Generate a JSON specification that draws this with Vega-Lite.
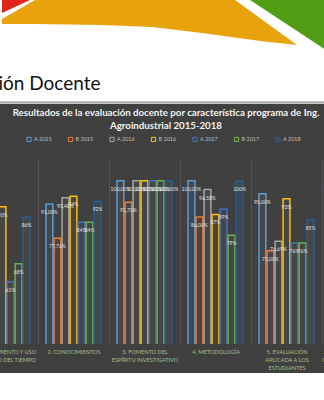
{
  "$schema": "https://vega.github.io/schema/vega-lite/v6.json",
  "padding": {"left": -35, "top": 0, "right": 0, "bottom": 0},
  "background": "#404040",
  "config": {"view": {"stroke": null}, "font": "Lato"},
  "datasets": {
    "deco": [
      {"shape": "red", "x": 0, "y": 0, "y2": 13},
      {"shape": "red", "x": 28, "y": 0, "y2": 0},
      {"shape": "orange", "x": 0, "y": 19, "y2": 24},
      {"shape": "orange", "x": 33, "y": 0, "y2": 24},
      {"shape": "orange", "x": 100, "y": 0, "y2": 25},
      {"shape": "orange", "x": 150, "y": 0, "y2": 27},
      {"shape": "orange", "x": 200, "y": 0, "y2": 33},
      {"shape": "orange", "x": 233, "y": 0, "y2": 37.5},
      {"shape": "orange", "x": 262, "y": 21, "y2": 41.5},
      {"shape": "orange", "x": 295, "y": 45, "y2": 45},
      {"shape": "green", "x": 248, "y": 0, "y2": 0},
      {"shape": "green", "x": 324, "y": 0, "y2": 50},
      {"shape": "green", "x": 391, "y": 0, "y2": 94}
    ],
    "bars": [
      {"cat": "1. CUMPLIMIENTO Y USO ADECUADO DEL TIEMPO", "serie": "B 2016", "v": 90, "lab": "90%"},
      {"cat": "1. CUMPLIMIENTO Y USO ADECUADO DEL TIEMPO", "serie": "A 2017", "v": 61, "lab": "61%"},
      {"cat": "1. CUMPLIMIENTO Y USO ADECUADO DEL TIEMPO", "serie": "B 2017", "v": 68, "lab": "68%"},
      {"cat": "1. CUMPLIMIENTO Y USO ADECUADO DEL TIEMPO", "serie": "A 2018", "v": 86, "lab": "86%"},
      {"cat": "2. CONOCIMIENTOS", "serie": "A 2015", "v": 91, "lab": "91,00%"},
      {"cat": "2. CONOCIMIENTOS", "serie": "B 2015", "v": 77.76, "lab": "77,76%"},
      {"cat": "2. CONOCIMIENTOS", "serie": "A 2016", "v": 93.48, "lab": "93,48%"},
      {"cat": "2. CONOCIMIENTOS", "serie": "B 2016", "v": 94, "lab": "94%"},
      {"cat": "2. CONOCIMIENTOS", "serie": "A 2017", "v": 84, "lab": "84%"},
      {"cat": "2. CONOCIMIENTOS", "serie": "B 2017", "v": 84, "lab": "84%"},
      {"cat": "2. CONOCIMIENTOS", "serie": "A 2018", "v": 92, "lab": "92%"},
      {"cat": "3. FOMENTO DEL ESPÍRITU INVESTIGATIVO", "serie": "A 2015", "v": 100, "lab": "100,00%"},
      {"cat": "3. FOMENTO DEL ESPÍRITU INVESTIGATIVO", "serie": "B 2015", "v": 91.7, "lab": "91,70%"},
      {"cat": "3. FOMENTO DEL ESPÍRITU INVESTIGATIVO", "serie": "A 2016", "v": 100, "lab": "100,00%"},
      {"cat": "3. FOMENTO DEL ESPÍRITU INVESTIGATIVO", "serie": "B 2016", "v": 100, "lab": "100,00%"},
      {"cat": "3. FOMENTO DEL ESPÍRITU INVESTIGATIVO", "serie": "A 2017", "v": 100, "lab": "100,00%"},
      {"cat": "3. FOMENTO DEL ESPÍRITU INVESTIGATIVO", "serie": "B 2017", "v": 100, "lab": "100,00%"},
      {"cat": "3. FOMENTO DEL ESPÍRITU INVESTIGATIVO", "serie": "A 2018", "v": 100, "lab": "100,00%"},
      {"cat": "4. METODOLOGÍA", "serie": "A 2015", "v": 100, "lab": "100,00%"},
      {"cat": "4. METODOLOGÍA", "serie": "B 2015", "v": 86, "lab": "86,00%"},
      {"cat": "4. METODOLOGÍA", "serie": "A 2016", "v": 96.58, "lab": "96,58%"},
      {"cat": "4. METODOLOGÍA", "serie": "B 2016", "v": 87, "lab": "87%"},
      {"cat": "4. METODOLOGÍA", "serie": "A 2017", "v": 89, "lab": "89%"},
      {"cat": "4. METODOLOGÍA", "serie": "B 2017", "v": 79, "lab": "79%"},
      {"cat": "4. METODOLOGÍA", "serie": "A 2018", "v": 100, "lab": "100%"},
      {"cat": "5. EVALUACIÓN APLICADA A LOS ESTUDIANTES", "serie": "A 2015", "v": 95, "lab": "95,00%"},
      {"cat": "5. EVALUACIÓN APLICADA A LOS ESTUDIANTES", "serie": "B 2015", "v": 73, "lab": "73,00%"},
      {"cat": "5. EVALUACIÓN APLICADA A LOS ESTUDIANTES", "serie": "A 2016", "v": 76.69, "lab": "76,69%"},
      {"cat": "5. EVALUACIÓN APLICADA A LOS ESTUDIANTES", "serie": "B 2016", "v": 93, "lab": "93%"},
      {"cat": "5. EVALUACIÓN APLICADA A LOS ESTUDIANTES", "serie": "A 2017", "v": 76, "lab": "76%"},
      {"cat": "5. EVALUACIÓN APLICADA A LOS ESTUDIANTES", "serie": "B 2017", "v": 76, "lab": "76%"},
      {"cat": "5. EVALUACIÓN APLICADA A LOS ESTUDIANTES", "serie": "A 2018", "v": 85, "lab": "85%"},
      {"cat": "6. RELACIONES Y COMUNICACIÓN ASERTIVA", "serie": "A 2015", "v": 100, "lab": "100,00%"}
    ]
  },
  "spacing": 4,
  "resolve": {"scale": {"stroke": "independent"}, "legend": {"stroke": "independent"}},
  "vconcat": [
    {
      "width": 426,
      "height": 104,
      "view": {"fill": "white", "stroke": null},
      "layer": [
        {
          "data": {"name": "deco"},
          "transform": [{"filter": "datum.shape == 'red'"}],
          "mark": {"type": "area", "color": "#e0261b", "clip": true},
          "encoding": {
            "x": {"field": "x", "type": "quantitative", "scale": {"domain": [-35, 391], "nice": false, "zero": false}, "axis": null},
            "y": {"field": "y", "type": "quantitative", "scale": {"domain": [0, 104], "reverse": true, "nice": false, "zero": false}, "axis": null},
            "y2": {"field": "y2"}
          }
        },
        {
          "data": {"name": "deco"},
          "transform": [{"filter": "datum.shape == 'orange'"}],
          "mark": {"type": "area", "color": "#e8a20c", "clip": true},
          "encoding": {
            "x": {"field": "x", "type": "quantitative"},
            "y": {"field": "y", "type": "quantitative"},
            "y2": {"field": "y2"}
          }
        },
        {
          "data": {"name": "deco"},
          "transform": [{"filter": "datum.shape == 'green'"}],
          "mark": {"type": "area", "color": "#519e14", "clip": true},
          "encoding": {
            "x": {"field": "x", "type": "quantitative"},
            "y": {"field": "y", "type": "quantitative"},
            "y2": {"field": "y2"}
          }
        },
        {
          "data": {"values": [{"t": "Evaluación Docente"}]},
          "mark": {"type": "text", "align": "right", "baseline": "alphabetic", "fontSize": 19, "font": "Lato", "color": "#111111", "clip": true},
          "encoding": {
            "text": {"field": "t"},
            "x": {"datum": 98.5},
            "y": {"datum": 90}
          }
        },
        {
          "data": {"values": [{}]},
          "mark": {"type": "rule", "color": "#b0b0b0", "strokeWidth": 2.5},
          "encoding": {"y": {"datum": 102.5}}
        }
      ]
    },
    {
      "spacing": 0,
      "resolve": {"scale": {"stroke": "independent"}, "legend": {"stroke": "independent"}},
      "vconcat": [
        {
          "width": 426,
          "height": 184,
          "data": {"name": "bars"},
          "title": {
            "text": ["Resultados de la evaluación docente por característica programa de Ing.", "Agroindustrial 2015-2018"],
            "color": "#f2f2f2",
            "fontSize": 9.7,
            "font": "Lato",
            "fontWeight": "bold",
            "anchor": "middle",
            "dx": -14,
            "offset": 5,
            "lineHeight": 13
          },
          "encoding": {
            "x": {
              "field": "cat",
              "type": "nominal",
              "sort": null,
              "scale": {
                "domain": ["1. CUMPLIMIENTO Y USO ADECUADO DEL TIEMPO", "2. CONOCIMIENTOS", "3. FOMENTO DEL ESPÍRITU INVESTIGATIVO", "4. METODOLOGÍA", "5. EVALUACIÓN APLICADA A LOS ESTUDIANTES", "6. RELACIONES Y COMUNICACIÓN ASERTIVA"],
                "paddingInner": 0,
                "paddingOuter": 0
              },
              "axis": {
                "title": null,
                "labelAngle": 0,
                "labelColor": "#a9bf8c",
                "labelFont": "Lato",
                "labelFontSize": 5.6,
                "labelLineHeight": 8.3,
                "labelPadding": 5,
                "labelLimit": 200,
                "ticks": false,
                "domain": false,
                "grid": true,
                "gridColor": "#595959",
                "gridWidth": 0.8,
                "tickBand": "extent",
                "labelExpr": "datum.label == '1. CUMPLIMIENTO Y USO ADECUADO DEL TIEMPO' ? ['1. CUMPLIMIENTO Y USO', 'ADECUADO DEL TIEMPO'] : datum.label == '3. FOMENTO DEL ESPÍRITU INVESTIGATIVO' ? ['3. FOMENTO DEL', 'ESPÍRITU INVESTIGATIVO'] : datum.label == '5. EVALUACIÓN APLICADA A LOS ESTUDIANTES' ? ['5. EVALUACIÓN', 'APLICADA A LOS', 'ESTUDIANTES'] : datum.label == '6. RELACIONES Y COMUNICACIÓN ASERTIVA' ? ['6. RELACIONES Y', 'COMUNICACIÓN ASERTIVA'] : datum.label"
              }
            },
            "xOffset": {
              "field": "serie",
              "type": "nominal",
              "scale": {"domain": ["A 2015", "B 2015", "A 2016", "B 2016", "A 2017", "B 2017", "A 2018"], "paddingInner": 0.15, "paddingOuter": 1.1}
            },
            "y": {
              "field": "v",
              "type": "quantitative",
              "scale": {"domain": [37, 108], "nice": false, "zero": false},
              "axis": null
            }
          },
          "layer": [
            {
              "mark": {"type": "bar", "clip": true, "strokeWidth": 1.5, "fill": "#464646"},
              "encoding": {
                "stroke": {
                  "field": "serie",
                  "type": "nominal",
                  "scale": {"domain": ["A 2015", "B 2015", "A 2016", "B 2016", "A 2017", "B 2017", "A 2018"], "range": ["#5b9bd5", "#ed7d31", "#a5a5a5", "#ffc000", "#4472c4", "#70ad47", "#255e91"]},
                  "legend": {
                    "title": null,
                    "orient": "none",
                    "legendX": 59,
                    "legendY": -24,
                    "direction": "horizontal",
                    "labelColor": "#bfbfbf",
                    "labelFont": "Lato",
                    "labelFontSize": 5.5,
                    "labelOffset": 2,
                    "symbolType": "square",
                    "symbolSize": 18,
                    "symbolFillColor": "transparent",
                    "symbolStrokeWidth": 1,
                    "columnPadding": 13.5
                  }
                }
              }
            },
            {
              "mark": {"type": "text", "dy": 8, "fontSize": 5, "font": "Lato", "color": "#e0e0e0", "clip": true},
              "encoding": {"text": {"field": "lab"}}
            }
          ]
        },
        {
          "width": 426,
          "height": 22,
          "view": {"fill": "white", "stroke": null},
          "data": {"values": [{}]},
          "mark": {"type": "rule", "opacity": 0},
          "encoding": {}
        }
      ]
    }
  ]
}
